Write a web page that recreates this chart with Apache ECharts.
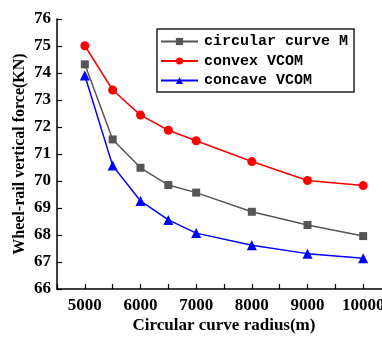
<!DOCTYPE html>
<html><head><meta charset="utf-8">
<script src="https://cdn.jsdelivr.net/npm/echarts@6/dist/echarts.min.js"></script>
<style>html,body{margin:0;padding:0;background:#fff}#c{width:382px;height:340px}</style>
</head><body><div id="c"></div>
<script>
var radius = [5000, 5500, 6000, 6500, 7000, 8000, 9000, 10000];
var circularM = [74.32, 71.54, 70.49, 69.85, 69.57, 68.86, 68.37, 67.96];
var convexVCOM = [75.01, 73.37, 72.44, 71.88, 71.49, 70.72, 70.02, 69.83];
var concaveVCOM = [73.91, 70.57, 69.26, 68.56, 68.07, 67.62, 67.31, 67.14];
var names = ['circular curve M', 'convex VCOM', 'concave VCOM'];

function pairs(vals){ return radius.map(function(r,i){return [r, vals[i]];}); }

var chart = echarts.init(document.getElementById('c'));
var serif = '"Liberation Serif", "Times New Roman", serif';
chart.setOption({
  animation: false,
  backgroundColor: '#fff',
  grid: {left: 57, top: 19, width: 334, height: 270, outerBoundsMode: 'none', containLabel: false},
  legend: {
    orient: 'vertical', left: 157, top: 29,
    padding: [5, 6, 4, 3], itemGap: 4.5,
    itemWidth: 37, itemHeight: 9,
    borderColor: '#222', borderWidth: 1.5,
    textStyle: {fontFamily: '"Liberation Mono", monospace', fontWeight: 'bold', fontSize: 15, color: '#000', padding: [0,0,0,1]},
    data: names
  },
  xAxis: {
    type: 'value', min: 4500, max: 10500, interval: 500,
    name: 'Circular curve radius(m)', nameLocation: 'middle', nameGap: 28, nameMoveOverlap: false,
    nameTextStyle: {fontFamily: serif, fontWeight: 'bold', fontSize: 17, color: '#000'},
    axisLine: {lineStyle: {color: '#000', width: 1.5}},
    axisTick: {inside: true, length: 5, lineStyle: {color: '#000', width: 1.2},
      interval: function(v){ return v % 1000 === 0; }},
    axisLabel: {fontFamily: serif, fontWeight: 'bold', fontSize: 17, color: '#000', margin: 8,
      formatter: function(v){ return (v % 1000 === 0 && v >= 5000 && v <= 10000) ? String(v) : ''; }},
    splitLine: {show: false}
  },
  yAxis: {
    type: 'value', min: 66, max: 76, interval: 1,
    name: 'Wheel-rail vertical force(KN)', nameLocation: 'middle', nameGap: 29, nameMoveOverlap: false,
    nameTextStyle: {fontFamily: serif, fontWeight: 'bold', fontSize: 16, color: '#000'},
    axisLine: {show: true, lineStyle: {color: '#000', width: 1.5}},
    axisTick: {show: true, inside: true, length: 5, lineStyle: {color: '#000', width: 1.2}},
    axisLabel: {fontFamily: serif, fontWeight: 'bold', fontSize: 17, color: '#000', margin: 6},
    splitLine: {show: false}
  },
  series: [
    {name: names[0], type: 'line', data: pairs(circularM), symbol: 'rect', symbolSize: 8,
     itemStyle: {color: '#555555'}, lineStyle: {color: '#555555', width: 1.5}},
    {name: names[1], type: 'line', data: pairs(convexVCOM), symbol: 'circle', symbolSize: 9,
     itemStyle: {color: '#ff0000'}, lineStyle: {color: '#ff0000', width: 1.5}},
    {name: names[2], type: 'line', data: pairs(concaveVCOM), symbol: 'triangle', symbolSize: 10,
     itemStyle: {color: '#0000ff'}, lineStyle: {color: '#0000ff', width: 1.5}}
  ]
});
</script></body></html>
